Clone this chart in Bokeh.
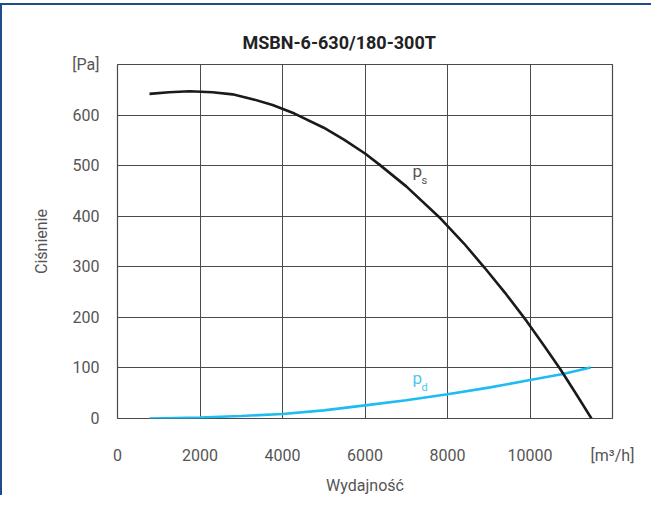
from bokeh.plotting import figure
from bokeh.models import Label, FixedTicker, Range1d, Title
from bokeh.embed import file_html
from bokeh.resources import INLINE

# Data
flow_ps = [776, 1250, 1750, 2300, 2790, 3300, 3760, 4290, 5000, 5500, 6000, 6350, 7000, 7800, 8400, 8900, 9400, 9915, 10350, 10740, 11100, 11490]
press_ps = [642, 645, 647, 645, 641, 631, 620, 603, 575, 551, 524, 502, 459, 398, 346, 298, 248, 193, 143, 97, 51, 0]

flow_pd = [776, 2000, 3000, 4000, 5000, 6000, 7000, 8000, 9000, 10000, 10800, 11470]
press_pd = [0, 2, 5, 9, 16, 26, 36, 48, 61, 76, 88, 101]

x_ticks = [0, 2000, 4000, 6000, 8000, 10000, 12000]
x_tick_labels = {12000: "[m³/h]"}
y_ticks = [0, 100, 200, 300, 400, 500, 600, 700]
y_tick_labels = {700: "[Pa]"}

title_text = "MSBN-6-630/180-300T"
x_label = "Wydajność"
y_label = "Ciśnienie"

FONT = "Roboto"
GRID = "#4a4a4a"
TICK = "#555555"
BLUE_LINE = "#1ebcf0"
BLUE_TEXT = "#4cc6f0"
FRAME_BLUE = "#1b4d8c"

p = figure(width=651, height=492, output_backend="svg", toolbar_location=None,
           x_range=Range1d(0, 12000), y_range=Range1d(0, 700),
           min_border_left=115, min_border_right=41, min_border_top=59, min_border_bottom=64)

p.title = Title(text=title_text, align="left", offset=125, text_font=FONT,
                text_font_size="18px", text_font_style="bold", text_color="#222222",
                standoff=24)

for ax, ticks, over in ((p.xaxis, x_ticks, x_tick_labels), (p.yaxis, y_ticks, y_tick_labels)):
    ax.ticker = FixedTicker(ticks=ticks)
    ax.major_label_overrides = over
    ax.axis_line_color = None
    ax.major_tick_line_color = None
    ax.minor_tick_line_color = None
    ax.major_label_text_font = FONT
    ax.major_label_text_font_size = "16px"
    ax.major_label_text_color = TICK
    ax.axis_label_text_font = FONT
    ax.axis_label_text_font_size = "16px"
    ax.axis_label_text_font_style = "normal"
    ax.axis_label_text_color = TICK

p.xaxis.axis_label = x_label
p.yaxis.axis_label = y_label
p.xaxis.major_label_standoff = 21
p.xaxis.axis_label_standoff = 8
p.yaxis.major_label_standoff = 12
p.yaxis.axis_label_standoff = 18

p.xgrid.ticker = FixedTicker(ticks=x_ticks)
p.ygrid.ticker = FixedTicker(ticks=y_ticks)
for g in (p.xgrid, p.ygrid):
    g.grid_line_color = GRID
    g.grid_line_width = 1
p.outline_line_color = GRID
p.outline_line_width = 1.2
p.outline_line_alpha = 1

p.line(flow_pd, press_pd, line_color=BLUE_LINE, line_width=2.6)
p.line(flow_ps, press_ps, line_color="#1a1a1a", line_width=2.6)

p.add_layout(Label(x=7150, y=469, text="p", text_font=FONT, text_font_size="17px", text_color=TICK))
p.add_layout(Label(x=7370, y=457, text="s", text_font=FONT, text_font_size="11px", text_color=TICK))
p.add_layout(Label(x=7150, y=61, text="p", text_font=FONT, text_font_size="17px", text_color=BLUE_TEXT))
p.add_layout(Label(x=7370, y=49, text="d", text_font=FONT, text_font_size="11px", text_color=BLUE_TEXT))

p.styles = {"border-left": f"2px solid {FRAME_BLUE}", "border-top": f"2px solid {FRAME_BLUE}",
            "margin-top": "3px"}

open("out.html", "w").write(file_html(p, INLINE))
